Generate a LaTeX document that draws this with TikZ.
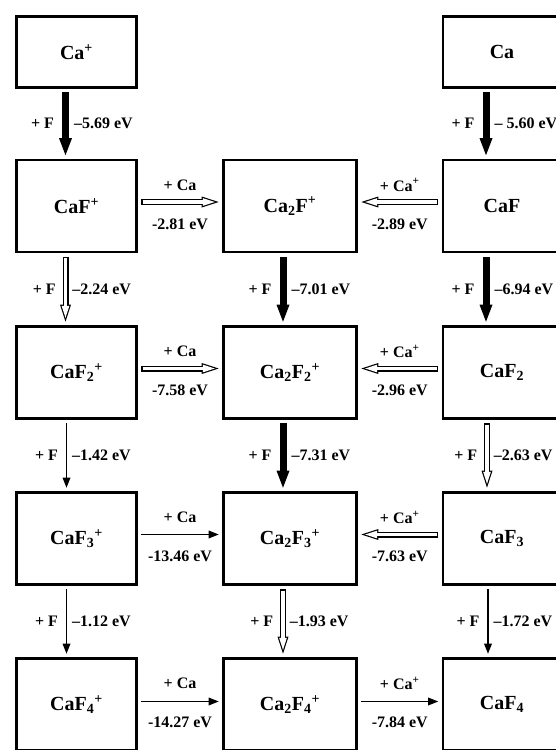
\documentclass[tikz,border=0pt]{standalone}
\usepackage{fontspec}
\setmainfont{Liberation Serif}
\usetikzlibrary{arrows.meta}
\tikzset{species/.style={draw,line width=2.6pt,minimum width=120pt,minimum height=92pt,inner sep=0pt,font=\fontsize{20}{24}\selectfont\bfseries},
lbl/.style={inner sep=0pt,font=\fontsize{16}{19}\selectfont\bfseries},
slim/.style={-{Triangle[length=10pt,width=8pt,line width=0pt]},line width=1.1pt,shorten <=3.5pt,shorten >=3.5pt},
heavy/.style={-{Triangle[length=17pt,width=13pt,line width=0pt]},line width=7pt,shorten <=3.5pt,shorten >=3.5pt},
hollow/.style={preaction={draw=black,line width=6pt,-{Triangle[length=17pt,width=11pt,line width=0pt]},shorten <=3.5pt,shorten >=3.5pt},
  draw=white,line width=3.6pt,-{Triangle[length=11.9pt,width=7.7pt,line width=0pt]},shorten <=4.7pt,shorten >=7.4pt}}
\begin{document}
\begin{tikzpicture}[x=1pt,y=-1pt]
\useasboundingbox (0,0) rectangle (556,750);
\clip (0,0) rectangle (556,750);
\fill[white] (0,0) rectangle (556,750);
% species
\node[species,minimum height=71pt] (cap) at (76.5,52) {Ca\textsuperscript{+}};
\node[species,minimum width=118pt,minimum height=71pt] (ca) at (502,52) {Ca};
\node[species] (cafp) at (76.5,206) {CaF\textsuperscript{+}};
\node[species,minimum width=133pt] (ca2fp) at (290,206) {Ca\textsubscript{2}F\textsuperscript{+}};
\node[species,minimum width=118pt] (caf) at (502,206) {CaF};
\node[species] (caf2p) at (76.5,372.5) {CaF\textsubscript{2}\textsuperscript{+}};
\node[species,minimum width=133pt] (ca2f2p) at (290,372.5) {Ca\textsubscript{2}F\textsubscript{2}\textsuperscript{+}};
\node[species,minimum width=118pt] (caf2) at (502,372.5) {CaF\textsubscript{2}};
\node[species] (caf3p) at (76.5,538.5) {CaF\textsubscript{3}\textsuperscript{+}};
\node[species,minimum width=133pt] (ca2f3p) at (290,538.5) {Ca\textsubscript{2}F\textsubscript{3}\textsuperscript{+}};
\node[species,minimum width=118pt] (caf3) at (502,538.5) {CaF\textsubscript{3}};
\node[species] (caf4p) at (76.5,704.5) {CaF\textsubscript{4}\textsuperscript{+}};
\node[species,minimum width=133pt] (ca2f4p) at (290,704.5) {Ca\textsubscript{2}F\textsubscript{4}\textsuperscript{+}};
\node[species,minimum width=118pt] (caf4) at (502,704.5) {CaF\textsubscript{4}};
% + F steps
\draw[heavy] ([xshift=-11pt]cap.south) -- node[lbl,left=8pt]{+ F} node[lbl,right=5pt]{--5.69 eV} ([xshift=-11pt]cafp.north);
\draw[hollow] ([xshift=-11pt]cafp.south) -- node[lbl,left=8pt]{+ F} node[lbl,right=5pt]{--2.24 eV} ([xshift=-11pt]caf2p.north);
\draw[slim] ([xshift=-10pt]caf2p.south) -- node[lbl,left=8pt]{+ F} node[lbl,right=5pt]{--1.42 eV} ([xshift=-10pt]caf3p.north);
\draw[slim] ([xshift=-10pt]caf3p.south) -- node[lbl,left=8pt]{+ F} node[lbl,right=5pt]{--1.12 eV} ([xshift=-10pt]caf4p.north);
\draw[heavy] ([xshift=-7pt]ca2fp.south) -- node[lbl,left=8pt]{+ F} node[lbl,right=5pt]{--7.01 eV} ([xshift=-7pt]ca2f2p.north);
\draw[heavy] ([xshift=-7pt]ca2f2p.south) -- node[lbl,left=8pt]{+ F} node[lbl,right=5pt]{--7.31 eV} ([xshift=-7pt]ca2f3p.north);
\draw[hollow] ([xshift=-7pt]ca2f3p.south) -- node[lbl,left=8pt]{+ F} node[lbl,right=5pt]{--1.93 eV} ([xshift=-7pt]ca2f4p.north);
\draw[heavy] ([xshift=-16pt]ca.south) -- node[lbl,left=8pt]{+ F} node[lbl,right=5pt]{-- 5.60 eV} ([xshift=-16pt]caf.north);
\draw[heavy] ([xshift=-16pt]caf.south) -- node[lbl,left=8pt]{+ F} node[lbl,right=5pt]{--6.94 eV} ([xshift=-16pt]caf2.north);
\draw[hollow] ([xshift=-15pt]caf2.south) -- node[lbl,left=8pt]{+ F} node[lbl,right=5pt]{--2.63 eV} ([xshift=-15pt]caf3.north);
\draw[slim] ([xshift=-14pt]caf3.south) -- node[lbl,left=8pt]{+ F} node[lbl,right=5pt]{--1.72 eV} ([xshift=-14pt]caf4.north);
% + Ca and + Ca+ steps
\draw[hollow] ([yshift=4pt]cafp.east) -- node[lbl,yshift=17pt]{+ Ca} node[lbl,yshift=-22pt]{-2.81 eV} ([yshift=4pt]ca2fp.west);
\draw[hollow] ([yshift=4pt]caf2p.east) -- node[lbl,yshift=17pt]{+ Ca} node[lbl,yshift=-22pt]{-7.58 eV} ([yshift=4pt]ca2f2p.west);
\draw[slim] ([yshift=4pt]caf3p.east) -- node[lbl,yshift=17pt]{+ Ca} node[lbl,yshift=-22pt]{-13.46 eV} ([yshift=4pt]ca2f3p.west);
\draw[slim] ([yshift=3pt]caf4p.east) -- node[lbl,yshift=18pt]{+ Ca} node[lbl,yshift=-21pt]{-14.27 eV} ([yshift=3pt]ca2f4p.west);
\draw[hollow] ([yshift=4pt]caf.west) -- node[lbl,yshift=17pt]{+ Ca\textsuperscript{+}} node[lbl,yshift=-22pt]{-2.89 eV} ([yshift=4pt]ca2fp.east);
\draw[hollow] ([yshift=4pt]caf2.west) -- node[lbl,yshift=17pt]{+ Ca\textsuperscript{+}} node[lbl,yshift=-22pt]{-2.96 eV} ([yshift=4pt]ca2f2p.east);
\draw[hollow] ([yshift=4pt]caf3.west) -- node[lbl,yshift=17pt]{+ Ca\textsuperscript{+}} node[lbl,yshift=-22pt]{-7.63 eV} ([yshift=4pt]ca2f3p.east);
\draw[slim] ([yshift=3pt]ca2f4p.east) -- node[lbl,yshift=18pt]{+ Ca\textsuperscript{+}} node[lbl,yshift=-21pt]{-7.84 eV} ([yshift=3pt]caf4.west);
\end{tikzpicture}
\end{document}
